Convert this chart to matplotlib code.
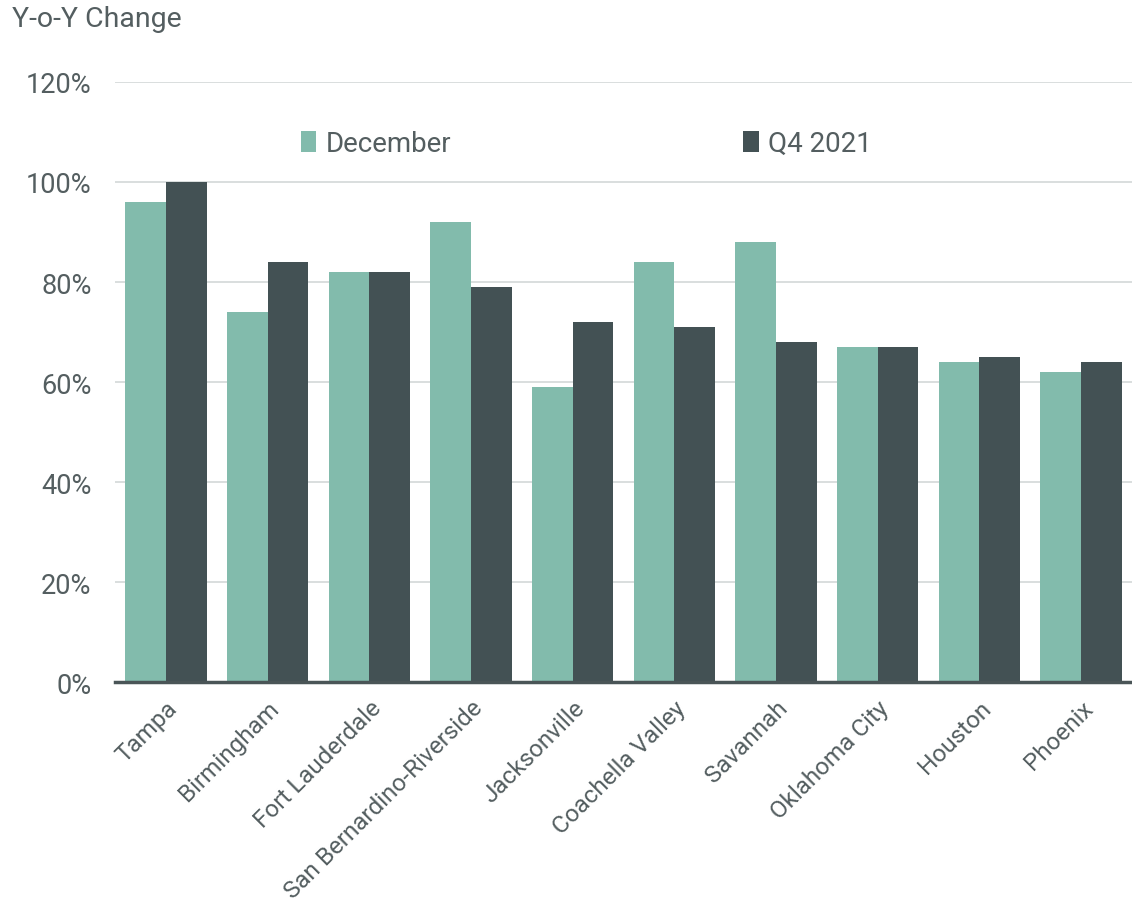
import numpy as np
import matplotlib.pyplot as plt

# Data
cities = ["Tampa", "Birmingham", "Fort Lauderdale", "San Bernardino-Riverside",
          "Jacksonville", "Coachella Valley", "Savannah", "Oklahoma City",
          "Houston", "Phoenix"]
december = [96, 74, 82, 92, 59, 84, 88, 67, 64, 62]
q4_2021 = [100, 84, 82, 79, 72, 71, 68, 67, 65, 64]
yticks = [0, 20, 40, 60, 80, 100, 120]

light = "#82bbac"
dark = "#435154"
text_col = "#545e60"

plt.rcParams['font.family'] = ['Roboto', 'DejaVu Sans']

fig = plt.figure(figsize=(11.32, 9.03), dpi=100)
ax = fig.add_axes([0.1016, 0.2436, 0.8984, 0.6645])

x = np.arange(len(cities))
w = 0.4
ax.bar(x - w / 2, december, w, color=light, label="December", zorder=2)
ax.bar(x + w / 2, q4_2021, w, color=dark, label="Q4 2021", zorder=2)

ax.set_xlim(-0.5, len(cities) - 0.5)
ax.set_ylim(0, 120)
ax.set_yticks(yticks)
ax.set_yticklabels([f"{v}%" for v in yticks], fontsize=19.5, color=text_col)
ax.set_xticks(x)
ax.set_xticklabels(cities, rotation=45, ha="right", rotation_mode="anchor",
                   fontsize=17.5, color=text_col)
ax.tick_params(axis="y", length=0, pad=17)
ax.tick_params(axis="x", length=0, pad=10)

ax.grid(axis="y", color="#d3d8d8", linewidth=1.2, zorder=0)
for s in ["top", "right", "left"]:
    ax.spines[s].set_visible(False)
ax.spines["bottom"].set_color("#4a5557")
ax.spines["bottom"].set_linewidth(2.5)
ax.spines["bottom"].set_zorder(3)

leg = ax.legend(loc="center left", bbox_to_anchor=(0.172, 0.897), ncol=2,
                frameon=False, fontsize=20, handlelength=0.55, handleheight=0.75,
                handletextpad=0.35, columnspacing=10.5, borderaxespad=0)
for t in leg.get_texts():
    t.set_color(text_col)

fig.text(0.011, 0.993, "Y-o-Y Change", fontsize=20.5, color=text_col,
         ha="left", va="top")

fig.savefig("out.png", dpi=100)
